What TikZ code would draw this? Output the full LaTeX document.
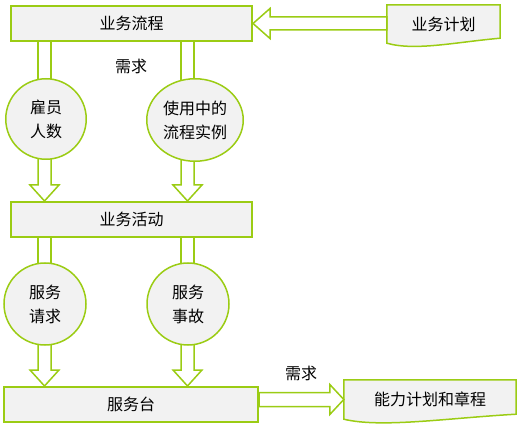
\documentclass[tikz,border=0pt]{standalone}
\usepackage{fontspec}
\setmainfont{Noto Sans CJK SC}
\usetikzlibrary{calc,backgrounds,shapes.geometric}
\definecolor{lg}{RGB}{155,204,20}
\definecolor{bgc}{RGB}{242,242,242}
\tikzset{
  txt/.style={font=\fontsize{16}{24}\selectfont, text=black},
  boxnode/.style={txt, draw=lg, line width=2pt, fill=bgc, inner sep=0pt, minimum height=35pt},
  circnode/.style={txt, draw=lg, line width=1.5pt, fill=bgc, inner sep=0pt, align=center},
  docnode/.style={txt, inner sep=0pt},
  docline/.style={draw=lg, line width=1.5pt, fill=bgc},
  arr/.style={draw=lg, line width=1.5pt, fill=white, line join=miter},
  shaft/.style={draw=lg, line width=1.5pt},
  lbl/.style={txt, inner sep=0pt}
}
% vertical hollow arrow: #1 = x, #2 = start anchor, #3 = tip anchor
\newcommand{\hollowdown}[3]{%
  \draw[arr] let \p1=(#2), \p2=(#3) in
    (#1-6.5pt,\y1) -- (#1-6.5pt,\y2+16pt) -- (#1-14.5pt,\y2+16pt) -- (#1,\y2)
    -- (#1+14.5pt,\y2+16pt) -- (#1+6.5pt,\y2+16pt) -- (#1+6.5pt,\y1) -- cycle;}
% two parallel shaft lines: #1 = x, #2 = start anchor, #3 = end anchor
\newcommand{\twinshaft}[3]{%
  \draw[shaft] let \p1=(#2), \p2=(#3) in
    (#1-6.5pt,\y1) -- (#1-6.5pt,\y2) (#1+6.5pt,\y1) -- (#1+6.5pt,\y2);}
\begin{document}
\begin{tikzpicture}[x=1pt,y=-1pt]
\useasboundingbox (0,0) rectangle (519,427);

% boxes
\node[boxnode, minimum width=241pt] (b1) at (131.5,23.5) {业务流程};
\node[boxnode, minimum width=241pt] (b2) at (131.5,219.5) {业务活动};
\node[boxnode, minimum width=254pt] (b3) at (131,404.5) {服务台};

% circles
\node[circnode, circle, minimum size=80.5pt] (c1) at (46,119) {雇员\\人数};
\node[circnode, ellipse, minimum width=96.5pt, minimum height=82.5pt] (c2) at (195,120) {使用中的\\流程实例};
\node[circnode, circle, minimum size=82pt] (c3) at (45,304) {服务\\请求};
\node[circnode, circle, minimum size=82pt] (c4) at (188,304) {服务\\事故};

% documents
\node[docnode, minimum width=113pt, minimum height=38pt] (d1) at (443.5,24) {};
\draw[docline] (d1.north west) -- (d1.north east) -- ([yshift=5pt]d1.south east)
  .. controls ([shift={(-45pt,1pt)}]d1.south east) and ([shift={(-85pt,-8pt)}]d1.south east) .. (d1.south west) -- cycle;
\node[txt] at ([yshift=0pt]d1.center) {业务计划};

\node[docnode, minimum width=172pt, minimum height=39pt] (d2) at (430,399.5) {};
\draw[docline] (d2.north west) -- (d2.north east) -- ([yshift=5pt]d2.south east)
  .. controls ([shift={(-70pt,1pt)}]d2.south east) and ([shift={(-135pt,-9pt)}]d2.south east) .. (d2.south west) -- cycle;
\node[txt] at (d2.center) {能力计划和章程};

% labels
\node[lbl] (l1) at (131,66) {需求};
\node[lbl] (l2) at (301,373) {需求};

% connectors
\begin{scope}[on background layer]
  \twinshaft{44.5pt}{b1.south}{c1.center}
  \twinshaft{187.5pt}{b1.south}{c2.center}
  \hollowdown{44.5pt}{c1.center}{b2.north}
  \hollowdown{187.5pt}{c2.center}{b2.north}
  \twinshaft{44.5pt}{b2.south}{c3.center}
  \twinshaft{187.5pt}{b2.south}{c4.center}
  \hollowdown{44.5pt}{c3.center}{b3.north}
  \hollowdown{187.5pt}{c4.center}{b3.north}
\end{scope}

% horizontal hollow arrows
\draw[arr] let \p1=(d1.west), \p2=(b1.east) in
  (\x1,\y2+6.5pt) -- (\x2+17pt,\y2+6.5pt) -- (\x2+17pt,\y2+15pt) -- (\x2,\y2)
  -- (\x2+17pt,\y2-15pt) -- (\x2+17pt,\y2-6.5pt) -- (\x1,\y2-6.5pt) -- cycle;
\draw[arr] let \p1=(b3.east), \p2=(d2.west) in
  (\x1,\y2+7pt) -- (\x2-14pt,\y2+7pt) -- (\x2-14pt,\y2+15pt) -- (\x2,\y2)
  -- (\x2-14pt,\y2-15pt) -- (\x2-14pt,\y2-7pt) -- (\x1,\y2-7pt) -- cycle;
\end{tikzpicture}
\end{document}
